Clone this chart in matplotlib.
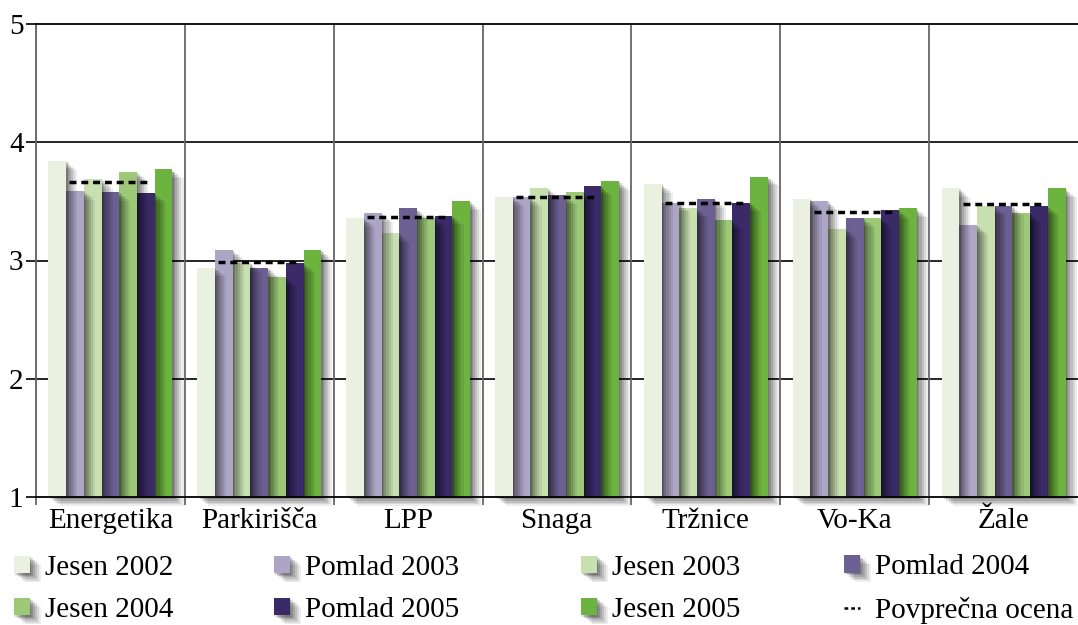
import matplotlib
matplotlib.use("Agg")
import matplotlib.pyplot as plt
import matplotlib.patheffects as pe
from matplotlib.patches import Patch
from matplotlib.lines import Line2D
import numpy as np

plt.rcParams['font.family'] = ['Liberation Serif', 'DejaVu Serif']

# ---- data ----
categories = ['Energetika', 'Parkirišča', 'LPP', 'Snaga', 'Tržnice', 'Vo-Ka', 'Žale']
series_names = ['Jesen 2002', 'Pomlad 2003', 'Jesen 2003', 'Pomlad 2004',
                'Jesen 2004', 'Pomlad 2005', 'Jesen 2005']
jesen_2002 = [3.84, 2.94, 3.36, 3.54, 3.65, 3.52, 3.61]
pomlad_2003 = [3.59, 3.09, 3.40, 3.54, 3.49, 3.50, 3.30]
jesen_2003 = [3.69, 2.98, 3.23, 3.61, 3.44, 3.27, 3.46]
pomlad_2004 = [3.58, 2.94, 3.44, 3.55, 3.52, 3.36, 3.46]
jesen_2004 = [3.75, 2.86, 3.36, 3.58, 3.34, 3.36, 3.40]
pomlad_2005 = [3.57, 2.98, 3.38, 3.63, 3.49, 3.43, 3.46]
jesen_2005 = [3.77, 3.09, 3.50, 3.67, 3.71, 3.44, 3.61]
povprecna = [3.66, 2.99, 3.37, 3.54, 3.49, 3.41, 3.48]
avg_label = 'Povprečna ocena'

series = [jesen_2002, pomlad_2003, jesen_2003, pomlad_2004,
          jesen_2004, pomlad_2005, jesen_2005]
colors = ['#eaf1e0', '#ada5c6', '#c8dfb0', '#6c5f92',
          '#9cc877', '#3a2a68', '#6db33f']

# ---- figure ----
W, H = 1078, 625
fig = plt.figure(figsize=(W / 100, H / 100), dpi=100)
ax = fig.add_axes([36 / W, (H - 497) / H, (W - 36) / W, (497 - 24) / H])

FS = 21
# soft drop shadow, faked with several offset layers
shadow = [pe.SimplePatchShadow(offset=(d, -d * 0.8), shadow_rgbFace='k', alpha=a)
          for d, a in [(8, 0.07), (6.5, 0.09), (5, 0.11), (3.5, 0.13), (2, 0.15), (1, 0.15)]]
shadow.append(pe.Normal())

x = np.arange(len(categories))
n = len(series)
bw = 0.119
for i, (vals, col) in enumerate(zip(series, colors)):
    offs = (i - (n - 1) / 2) * bw
    ax.bar(x + offs, np.array(vals) - 1, bw, bottom=1, color=col,
           zorder=10 + (n - i), clip_on=False, path_effects=shadow,
           linewidth=0)

ax.hlines(povprecna, x - 0.275, x + 0.275, colors='black', linewidth=2.5,
          linestyles=(0, (2.0, 1.4)), zorder=30)

ax.set_xlim(-0.5, 6.5)
ax.set_ylim(1, 5)

# grid
for yv in [2, 3, 4]:
    ax.axhline(yv, color='black', lw=1.2, zorder=1)
for xv in np.arange(-0.5, 6.0, 1.0):
    ax.axvline(xv, color='#666666', lw=1.3, zorder=1)

ax.spines['right'].set_visible(False)
ax.spines['left'].set_color('#666666')
ax.spines['left'].set_linewidth(1.3)
ax.spines['top'].set_linewidth(1.3)
ax.spines['bottom'].set_linewidth(1.3)
ax.spines['bottom'].set_zorder(40)

ax.set_yticks([1, 2, 3, 4, 5])
ax.tick_params(axis='y', direction='out', length=7, width=1.2, pad=2, labelsize=FS)
ax.set_xticks(x)
ax.set_xticklabels(categories)
ax.tick_params(axis='x', which='major', length=0, pad=8, labelsize=FS)
ax.set_xticks(np.arange(-0.5, 6.0, 1.0), minor=True)
ax.tick_params(axis='x', which='minor', direction='out', length=6,
               width=1.3, color='#666666')

# ---- legend ----
handles = [Patch(facecolor=c, linewidth=0, path_effects=shadow) for c in colors]
avg_handle = Line2D([0], [0], color='black', lw=1.8, linestyle=(0, (1.5, 1.2)))
cols = [
    ([handles[0], handles[4]], [series_names[0], series_names[4]], 14),
    ([handles[1], handles[5]], [series_names[1], series_names[5]], 274),
    ([handles[2], handles[6]], [series_names[2], series_names[6]], 581),
    ([handles[3], avg_handle], [series_names[3], avg_label], 844),
]
for hs, ls, px in cols:
    leg = fig.legend(hs, ls, loc='center left',
                     bbox_to_anchor=(px / W, 1 - 589 / H),
                     frameon=False, fontsize=FS, borderpad=0, borderaxespad=0,
                     handlelength=0.55, handleheight=0.55, handletextpad=0.5,
                     labelspacing=0.55)

fig.savefig('out.png', dpi=100)
